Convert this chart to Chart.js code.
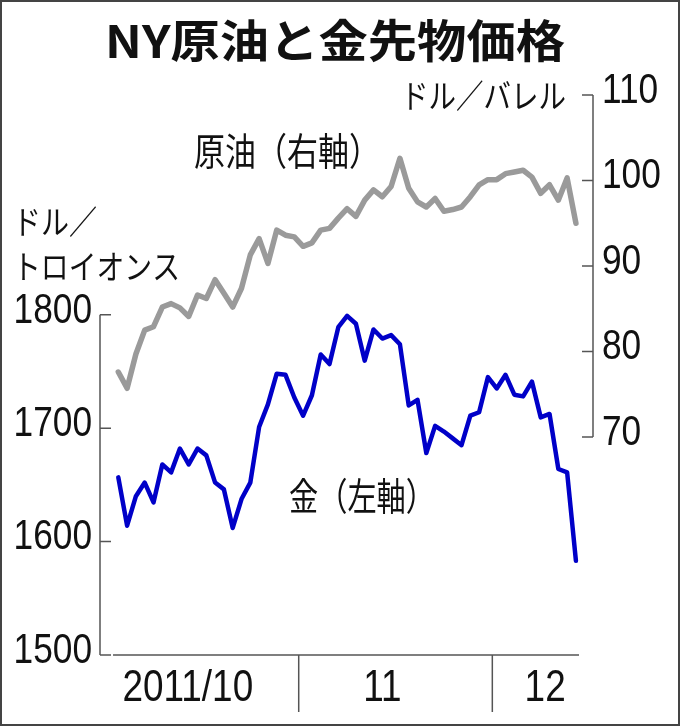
<!DOCTYPE html>
<html lang="ja">
<head>
<meta charset="utf-8">
<title>NY原油と金先物価格</title>
<script src="https://cdn.jsdelivr.net/npm/chart.js@4.4.1/dist/chart.umd.min.js"></script>
<style>
  html, body { margin: 0; padding: 0; background: #fff; }
  canvas { display: block; }
</style>
</head>
<body>
<canvas id="canvas" width="680" height="726"></canvas>
<script>
// trading days, 2011/10/3 - 2011/12/14
const dates = [
  '2011-10-03','2011-10-04','2011-10-05','2011-10-06','2011-10-07','2011-10-10','2011-10-11',
  '2011-10-12','2011-10-13','2011-10-14','2011-10-17','2011-10-18','2011-10-19','2011-10-20',
  '2011-10-21','2011-10-24','2011-10-25','2011-10-26','2011-10-27','2011-10-28','2011-10-31',
  '2011-11-01','2011-11-02','2011-11-03','2011-11-04','2011-11-07','2011-11-08','2011-11-09',
  '2011-11-10','2011-11-11','2011-11-14','2011-11-15','2011-11-16','2011-11-17','2011-11-18',
  '2011-11-21','2011-11-22','2011-11-23','2011-11-24','2011-11-25','2011-11-28','2011-11-29',
  '2011-11-30','2011-12-01','2011-12-02','2011-12-05','2011-12-06','2011-12-07','2011-12-08',
  '2011-12-09','2011-12-12','2011-12-13','2011-12-14'
];

// gold, dollars / troy ounce (left axis)
const goldPrice = [
  1656.6, 1614, 1640, 1652, 1634.5, 1668, 1661, 1682, 1668, 1682, 1676, 1652, 1646, 1612,
  1637.5, 1652, 1701, 1721, 1748, 1747, 1727, 1711, 1729, 1765, 1756.5, 1789, 1799, 1792,
  1759.5, 1787, 1779, 1782, 1774, 1720, 1725, 1678, 1702, 1697, 1691, 1685, 1711, 1714,
  1745, 1735, 1747, 1729.5, 1728, 1741, 1709.5, 1712.5, 1664, 1661, 1583
];

// NY crude, dollars / barrel (right axis)
const crudePrice = [
  77.6, 75.7, 79.7, 82.5, 82.9, 85.2, 85.6, 85.1, 84.1, 86.6, 86.2, 88.4, 86.8, 85.2,
  87.4, 91.3, 93.2, 90.3, 94.2, 93.6, 93.4, 92.3, 92.7, 94.2, 94.4, 95.6, 96.7, 95.8,
  97.7, 98.9, 98.1, 99.3, 102.6, 99.1, 97.5, 96.9, 97.9, 96.4, 96.6, 96.9, 98.1, 99.5,
  100.1, 100.1, 100.8, 101.0, 101.2, 100.4, 98.5, 99.5, 97.7, 100.3, 95.0
];

const xTickLabels = ['2011/10', '11', '12'];
const xTickAt = [7.9, 30, 48.5];
const goldTicks = [1500, 1600, 1700, 1800];
const crudeTicks = [70, 80, 90, 100, 110];

const numFont = "'Liberation Sans', Arial, sans-serif";
const jpFont = "'Noto Sans CJK JP', sans-serif";

// month boundaries (index of first day of a new month)
const monthStarts = [];
for (let i = 1; i < dates.length; i++) {
  if (dates[i].slice(5, 7) !== dates[i - 1].slice(5, 7)) monthStarts.push(i);
}

// text squeezed or stretched to a given width
function boxText(ctx, str, x, y, size, width, align, weight) {
  ctx.save();
  ctx.font = (weight || 'normal') + ' ' + size + 'px ' + jpFont;
  const w = ctx.measureText(str).width;
  ctx.translate(x, y);
  ctx.scale(width / w, 1);
  ctx.textAlign = align;
  ctx.textBaseline = 'middle';
  ctx.fillStyle = '#111';
  ctx.fillText(str, 0, 0);
  ctx.restore();
}

// narrow numerals, like the condensed face of the original
function numText(ctx, str, x, y, size, align) {
  ctx.save();
  ctx.font = size + 'px ' + numFont;
  ctx.translate(x, y);
  ctx.scale(0.82, 1);
  ctx.textAlign = align;
  ctx.textBaseline = 'middle';
  ctx.fillStyle = '#111';
  ctx.fillText(str, 0, 0);
  ctx.restore();
}

const decor = {
  id: 'decor',
  afterDraw(chart) {
    const ctx = chart.ctx;
    const area = chart.chartArea;
    const xs = chart.scales.x, gy = chart.scales.yGold, oy = chart.scales.yOil;

    ctx.save();
    // frame
    ctx.strokeStyle = '#444';
    ctx.lineWidth = 2;
    ctx.strokeRect(1, 1, 678, 724);

    // axes with inward ticks
    ctx.strokeStyle = '#555';
    ctx.lineWidth = 1.5;
    ctx.beginPath();
    ctx.moveTo(area.left, gy.getPixelForValue(goldTicks[goldTicks.length - 1]));
    ctx.lineTo(area.left, gy.getPixelForValue(goldTicks[0]));
    goldTicks.forEach(v => {
      const y = gy.getPixelForValue(v);
      ctx.moveTo(area.left, y);
      ctx.lineTo(area.left + 11, y);
    });
    ctx.moveTo(area.right, oy.getPixelForValue(crudeTicks[crudeTicks.length - 1]));
    ctx.lineTo(area.right, oy.getPixelForValue(crudeTicks[0]));
    crudeTicks.forEach(v => {
      const y = oy.getPixelForValue(v);
      ctx.moveTo(area.right - 11, y);
      ctx.lineTo(area.right, y);
    });
    // bottom line and month separators
    ctx.moveTo(xs.getPixelForValue(-0.6), area.bottom);
    ctx.lineTo(xs.getPixelForValue(dates.length - 0.65), area.bottom);
    monthStarts.forEach(i => {
      const x = xs.getPixelForValue(i - 0.5);
      ctx.moveTo(x, area.bottom);
      ctx.lineTo(x, area.bottom + 57);
    });
    ctx.stroke();
    ctx.restore();

    // tick labels, placed by the scales
    gy.ticks.forEach(t => numText(ctx, String(t.value), area.left - 8, gy.getPixelForValue(t.value) - 4, 43, 'right'));
    oy.ticks.forEach(t => numText(ctx, String(t.value), area.right + 9, oy.getPixelForValue(t.value) - 4, 43, 'left'));
    xs.ticks.forEach((t, i) => numText(ctx, xTickLabels[i], xs.getPixelForValue(t.value), area.bottom + 34, 45, 'center'));

    // titles and notes
    boxText(ctx, 'NY原油と金先物価格', 335, 41, 45, 460, 'center', 'bold');
    boxText(ctx, 'ドル／バレル', 566, 95, 33, 165, 'right');
    boxText(ctx, 'ドル／', 13, 221, 33, 84, 'left');
    boxText(ctx, 'トロイオンス', 13, 266, 33, 167, 'left');
    boxText(ctx, '原油（右軸）', 287, 151, 38, 186, 'center');
    boxText(ctx, '金（左軸）', 362, 496, 38, 146, 'center');
  }
};

new Chart(document.getElementById('canvas'), {
  type: 'line',
  data: {
    datasets: [
      {
        label: '原油',
        data: crudePrice.map((v, i) => ({ x: i, y: v })),
        yAxisID: 'yOil',
        borderColor: '#9a9a9a',
        borderWidth: 5.5,
        pointRadius: 0,
        tension: 0,
        borderJoinStyle: 'round',
        borderCapStyle: 'round'
      },
      {
        label: '金',
        data: goldPrice.map((v, i) => ({ x: i, y: v })),
        yAxisID: 'yGold',
        borderColor: '#0000c8',
        borderWidth: 4.5,
        pointRadius: 0,
        tension: 0,
        borderJoinStyle: 'round',
        borderCapStyle: 'round'
      }
    ]
  },
  options: {
    responsive: false,
    animation: false,
    devicePixelRatio: 1,
    layout: { padding: { top: 95, left: 0, right: 0, bottom: 0 } },
    plugins: {
      legend: { display: false },
      tooltip: { enabled: false },
      title: { display: false }
    },
    scales: {
      x: {
        type: 'linear',
        position: 'bottom',
        min: -2.08,
        max: 53.94,
        bounds: 'data',
        grid: { display: false, drawTicks: false },
        border: { display: false },
        afterBuildTicks: scale => { scale.ticks = xTickAt.map(v => ({ value: v })); },
        afterFit: scale => { scale.height = 71; },
        ticks: { display: false, autoSkip: false }
      },
      yGold: {
        type: 'linear',
        position: 'left',
        min: 1500,
        max: 1993.7,
        bounds: 'data',
        grid: { display: false, drawTicks: false },
        border: { display: false },
        afterBuildTicks: scale => { scale.ticks = goldTicks.map(v => ({ value: v })); },
        afterFit: scale => { scale.width = 100; },
        ticks: { display: false, autoSkip: false }
      },
      yOil: {
        type: 'linear',
        position: 'right',
        min: 44.5,
        max: 110,
        bounds: 'data',
        grid: { display: false, drawTicks: false },
        border: { display: false },
        afterBuildTicks: scale => { scale.ticks = crudeTicks.map(v => ({ value: v })); },
        afterFit: scale => { scale.width = 87; },
        ticks: { display: false, autoSkip: false }
      }
    }
  },
  plugins: [decor]
});
</script>
</body>
</html>
